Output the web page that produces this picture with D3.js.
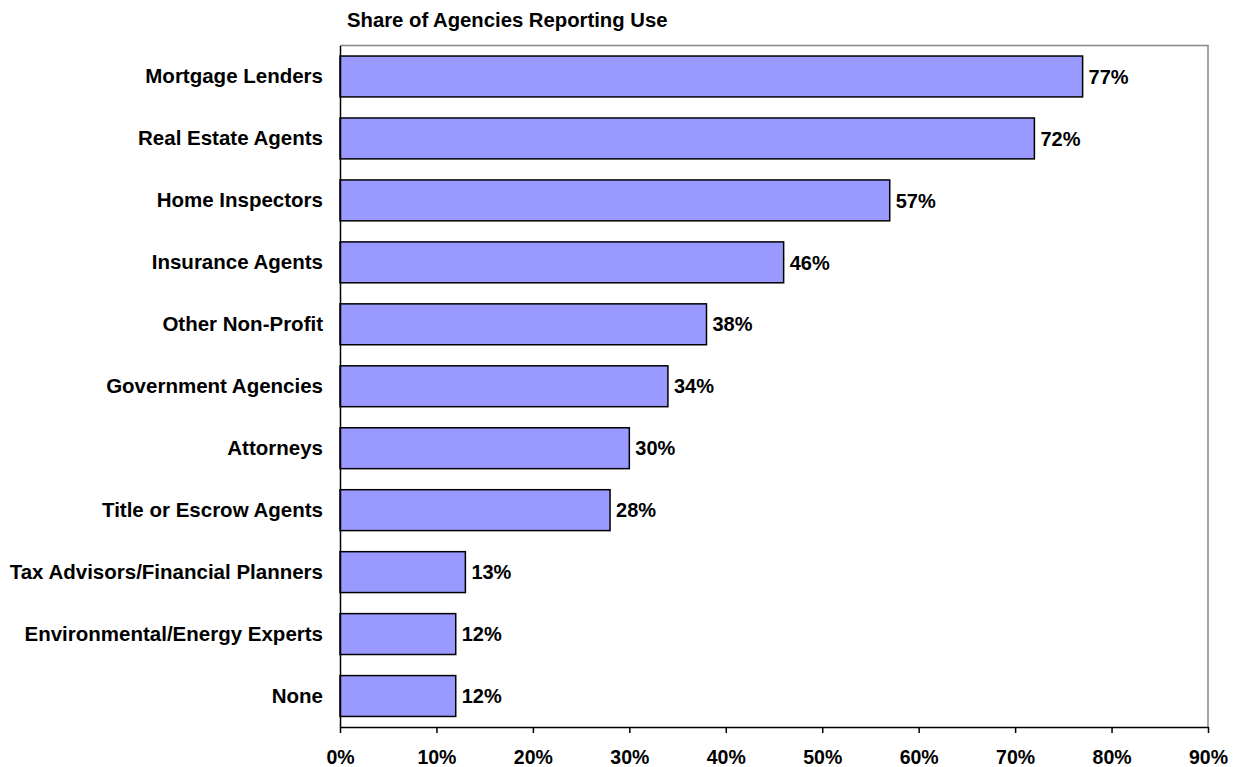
<!DOCTYPE html>
<html><head><meta charset="utf-8">
<script src="https://cdn.jsdelivr.net/npm/d3@7"></script>
<style>body{margin:0;background:#fff}svg{display:block}text{font-family:"Liberation Sans",Arial,sans-serif;font-weight:bold;fill:#000}</style>
</head><body>
<svg id="c" width="1240" height="767"></svg>
<script>
const categories = ["Mortgage Lenders","Real Estate Agents","Home Inspectors","Insurance Agents","Other Non-Profit","Government Agencies","Attorneys","Title or Escrow Agents","Tax Advisors/Financial Planners","Environmental/Energy Experts","None"];
const values = [77,72,57,46,38,34,30,28,13,12,12];
const tickValues = [0,10,20,30,40,50,60,70,80,90];
const title = "Share of Agencies Reporting Use";

const svg = d3.select("#c");
const m = {left:340, right:1208, top:45.5, bottom:727};
const x = d3.scaleLinear().domain([0,90]).range([m.left, m.right]);
const y = d3.scaleBand().domain(categories).range([m.top, m.bottom]).paddingInner(0.34).paddingOuter(0.17);

svg.append("path").attr("d",`M${m.left},${m.top}H${m.right}V${m.bottom}`)
  .attr("fill","none").attr("stroke","#888").attr("stroke-width",1.5);

svg.append("g").selectAll("rect").data(values).join("rect")
  .attr("x", x(0)).attr("y",(d,i)=>y(categories[i]))
  .attr("width", d=>x(d)-x(0)).attr("height", y.bandwidth())
  .attr("fill","#9999FF").attr("stroke","#000").attr("stroke-width",1.5);

svg.append("g").selectAll("text").data(values).join("text")
  .attr("x", d=>x(d)+6).attr("y",(d,i)=>y(categories[i])+y.bandwidth()/2)
  .attr("dy","0.36em").attr("font-size",20).text(d=>d+"%");

const ya = svg.append("g").attr("transform",`translate(${m.left},0)`)
  .call(d3.axisLeft(y).tickSize(0).tickPadding(17));
ya.select(".domain").attr("stroke","#000").attr("stroke-width",1.5);
ya.selectAll("text").attr("font-size",20.5).attr("font-family","Liberation Sans, Arial, sans-serif").attr("font-weight","bold");

const xa = svg.append("g").attr("transform",`translate(0,${m.bottom})`)
  .call(d3.axisBottom(x).tickValues(tickValues).tickFormat(d=>d+"%").tickSize(6).tickSizeOuter(0));
xa.select(".domain").attr("stroke","#000").attr("stroke-width",1.5);
xa.selectAll(".tick line").attr("stroke","#000").attr("stroke-width",1.5);
xa.selectAll("text").attr("font-size",19.5).attr("y",37).attr("dy",0)
  .attr("font-family","Liberation Sans, Arial, sans-serif").attr("font-weight","bold");

svg.append("text").attr("x",347).attr("y",26.5).attr("font-size",20.3).text(title);
</script>
</body></html>
